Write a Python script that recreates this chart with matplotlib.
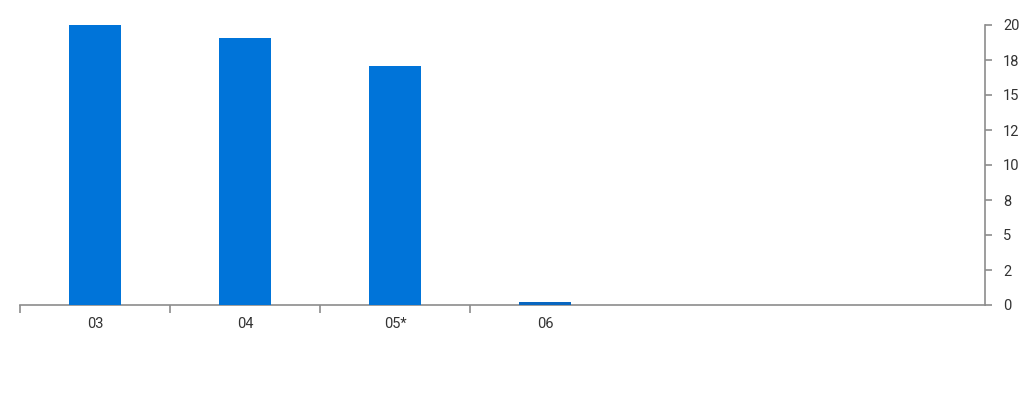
import matplotlib
matplotlib.use("Agg")
import matplotlib.pyplot as plt
from matplotlib.ticker import FixedLocator, FuncFormatter

categories = ["03", "04", "05*", "06"]
values = [20.0, 19.05, 17.05, 0.2]
y_ticks = [0, 2.5, 5, 7.5, 10, 12.5, 15, 17.5, 20]
bar_colors = ["#0074D9", "#0074D9", "#0074D9", "#0866C0"]

plt.rcParams['font.family'] = ['Roboto', 'DejaVu Sans']

fig = plt.figure(figsize=(10.24, 4.0), dpi=100)
ax = fig.add_axes([20/1024, 1-305/400, 965/1024, 280/400])

x = list(range(len(categories)))
ax.bar(x, values, width=0.35, color=bar_colors, edgecolor="none", zorder=3,
       clip_on=False)

ax.set_xlim(-0.5, 5.933)
ax.set_ylim(0, 20)

for s in ["top", "left"]:
    ax.spines[s].set_visible(False)
for s in ["bottom", "right"]:
    ax.spines[s].set_color("#8c8c8c")
    ax.spines[s].set_linewidth(1.2)
    ax.spines[s].set_zorder(2)

ax.yaxis.tick_right()
ax.yaxis.set_major_locator(FixedLocator(y_ticks))
ax.yaxis.set_major_formatter(FuncFormatter(lambda v, p: "{:.0f}".format(v)))
ax.tick_params(axis="y", length=5, width=1.2, color="#8c8c8c", labelsize=10.5,
               labelcolor="#333333", pad=8)

ax.set_xticks(x)
ax.set_xticklabels(categories)
ax.set_xticks([i - 0.5 for i in x], minor=True)
ax.tick_params(axis="x", which="major", length=0, labelsize=10.5, labelcolor="#333333", pad=9)
ax.tick_params(axis="x", which="minor", length=6, width=1.2, color="#8c8c8c")

fig.savefig("out.png", dpi=100)
